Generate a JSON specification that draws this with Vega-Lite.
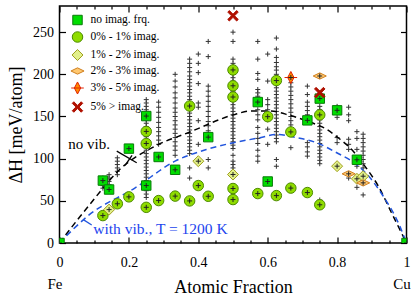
{
"$schema":"https://vega.github.io/schema/vega-lite/v6.json",
"width":347,"height":237,
"autosize":{"type":"none"},
"padding":{"left":59.5,"top":6,"right":8.5,"bottom":54},
"background":"white",
"config":{
 "font":"Liberation Serif",
 "view":{"stroke":"black","strokeWidth":1.5},
 "axis":{"grid":false,"domain":false,"tickColor":"black","tickWidth":1.2,"labelColor":"black","titleColor":"black","labelFont":"Liberation Serif","titleFont":"Liberation Serif","labelFontSize":14,"titleFontSize":18,"titleFontWeight":"normal","labelFlush":false,"labelOverlap":false},
 "legend":{"labelFont":"Liberation Serif","labelFontSize":11.5,"labelColor":"black","padding":0,"rowPadding":2,"labelOffset":7,"symbolStrokeWidth":1,"symbolSize":110}
},
"datasets":{
 "crosses":[
  {"x":0.125,"y":77},{"x":0.125,"y":74},{"x":0.125,"y":71},{"x":0.125,"y":68},{"x":0.125,"y":65},
  {"x":0.1429,"y":81},{"x":0.1429,"y":77},{"x":0.1429,"y":73},{"x":0.1429,"y":69},{"x":0.1429,"y":65},
  {"x":0.1667,"y":101},{"x":0.1667,"y":97},{"x":0.1667,"y":93},{"x":0.1667,"y":89},{"x":0.1667,"y":85},{"x":0.1667,"y":81},
  {"x":0.25,"y":170},{"x":0.25,"y":166},{"x":0.25,"y":162},{"x":0.25,"y":158},{"x":0.25,"y":154},{"x":0.25,"y":150},{"x":0.25,"y":146},{"x":0.25,"y":142},{"x":0.25,"y":138},{"x":0.25,"y":134},{"x":0.25,"y":130},{"x":0.25,"y":126},{"x":0.25,"y":122},{"x":0.25,"y":118},{"x":0.25,"y":114},{"x":0.25,"y":110},{"x":0.25,"y":106},{"x":0.25,"y":102},{"x":0.25,"y":98},{"x":0.25,"y":94},{"x":0.25,"y":90},{"x":0.25,"y":86},{"x":0.25,"y":82},{"x":0.25,"y":78},{"x":0.25,"y":74},{"x":0.25,"y":70},{"x":0.25,"y":66},{"x":0.25,"y":62},{"x":0.25,"y":58},{"x":0.25,"y":54},
  {"x":0.2857,"y":167},{"x":0.2857,"y":161},{"x":0.2857,"y":155},{"x":0.2857,"y":149},{"x":0.2857,"y":143},{"x":0.2857,"y":137},{"x":0.2857,"y":132},{"x":0.2857,"y":127},{"x":0.2857,"y":122},{"x":0.2857,"y":117},
  {"x":0.3333,"y":200},{"x":0.3333,"y":192},{"x":0.3333,"y":185},{"x":0.3333,"y":178},{"x":0.3333,"y":172},{"x":0.3333,"y":166},{"x":0.3333,"y":160},{"x":0.3333,"y":155},{"x":0.3333,"y":150},{"x":0.3333,"y":145},{"x":0.3333,"y":140},{"x":0.3333,"y":135},{"x":0.3333,"y":130},{"x":0.3333,"y":125},{"x":0.3333,"y":120},{"x":0.3333,"y":115},{"x":0.3333,"y":110},{"x":0.3333,"y":104},
  {"x":0.375,"y":218},{"x":0.375,"y":213},{"x":0.375,"y":208},{"x":0.375,"y":203},{"x":0.375,"y":198},{"x":0.375,"y":194},{"x":0.375,"y":190},{"x":0.375,"y":186},{"x":0.375,"y":182},{"x":0.375,"y":178},{"x":0.375,"y":174},{"x":0.375,"y":170},{"x":0.375,"y":166},{"x":0.375,"y":158},{"x":0.375,"y":154},{"x":0.375,"y":150},{"x":0.375,"y":146},{"x":0.375,"y":142},{"x":0.375,"y":138},{"x":0.375,"y":134},{"x":0.375,"y":130},{"x":0.375,"y":126},{"x":0.375,"y":122},{"x":0.375,"y":118},{"x":0.375,"y":114},{"x":0.375,"y":110},{"x":0.375,"y":106},{"x":0.375,"y":89},{"x":0.375,"y":77},
  {"x":0.4,"y":224},{"x":0.4,"y":213},{"x":0.4,"y":202},{"x":0.4,"y":189},{"x":0.4,"y":166},{"x":0.4,"y":161},{"x":0.4,"y":145},{"x":0.4,"y":117},
  {"x":0.4286,"y":239},{"x":0.4286,"y":221},{"x":0.4286,"y":186},{"x":0.4286,"y":180},{"x":0.4286,"y":174},{"x":0.4286,"y":168},{"x":0.4286,"y":162},{"x":0.4286,"y":156},{"x":0.4286,"y":150},{"x":0.4286,"y":144},{"x":0.4286,"y":139},{"x":0.4286,"y":133},{"x":0.4286,"y":99},{"x":0.4286,"y":89},
  {"x":0.5,"y":250},{"x":0.5,"y":239},{"x":0.5,"y":218},{"x":0.5,"y":213},{"x":0.5,"y":209},{"x":0.5,"y":200},{"x":0.5,"y":196},{"x":0.5,"y":192},{"x":0.5,"y":188},{"x":0.5,"y":184},{"x":0.5,"y":180},{"x":0.5,"y":176},{"x":0.5,"y":172},{"x":0.5,"y":168},{"x":0.5,"y":164},{"x":0.5,"y":160},{"x":0.5,"y":156},{"x":0.5,"y":152},{"x":0.5,"y":148},{"x":0.5,"y":144},{"x":0.5,"y":140},{"x":0.5,"y":136},{"x":0.5,"y":132},{"x":0.5,"y":128},{"x":0.5,"y":124},{"x":0.5,"y":120},{"x":0.5,"y":116},{"x":0.5,"y":112},{"x":0.5,"y":104},{"x":0.5,"y":97},{"x":0.5,"y":93},{"x":0.5,"y":89},{"x":0.5,"y":85},
  {"x":0.5714,"y":239},{"x":0.5714,"y":218},{"x":0.5714,"y":201},{"x":0.5714,"y":194},{"x":0.5714,"y":182},{"x":0.5714,"y":178},{"x":0.5714,"y":174},{"x":0.5714,"y":158},{"x":0.5714,"y":152},{"x":0.5714,"y":146},{"x":0.5714,"y":137},{"x":0.5714,"y":130},{"x":0.5714,"y":124},{"x":0.5714,"y":118},{"x":0.5714,"y":110},{"x":0.5714,"y":103},{"x":0.5714,"y":97},
  {"x":0.6,"y":224},{"x":0.6,"y":192},{"x":0.6,"y":170},{"x":0.6,"y":164},{"x":0.6,"y":158},{"x":0.6,"y":152},{"x":0.6,"y":146},{"x":0.6,"y":135},{"x":0.6,"y":117},
  {"x":0.625,"y":243},{"x":0.625,"y":230},{"x":0.625,"y":220},{"x":0.625,"y":214},{"x":0.625,"y":209},{"x":0.625,"y":205},{"x":0.625,"y":200},{"x":0.625,"y":196},{"x":0.625,"y":188},{"x":0.625,"y":184},{"x":0.625,"y":180},{"x":0.625,"y":176},{"x":0.625,"y":172},{"x":0.625,"y":168},{"x":0.625,"y":164},{"x":0.625,"y":160},{"x":0.625,"y":156},{"x":0.625,"y":152},{"x":0.625,"y":148},{"x":0.625,"y":144},{"x":0.625,"y":140},{"x":0.625,"y":136},{"x":0.625,"y":132},{"x":0.625,"y":128},{"x":0.625,"y":124},{"x":0.625,"y":120},{"x":0.625,"y":99},{"x":0.625,"y":91},
  {"x":0.6667,"y":196},{"x":0.6667,"y":190},{"x":0.6667,"y":185},{"x":0.6667,"y":180},{"x":0.6667,"y":175},{"x":0.6667,"y":170},{"x":0.6667,"y":165},{"x":0.6667,"y":160},{"x":0.6667,"y":155},{"x":0.6667,"y":150},{"x":0.6667,"y":145},{"x":0.6667,"y":140},{"x":0.6667,"y":135},{"x":0.6667,"y":113},
  {"x":0.7143,"y":186},{"x":0.7143,"y":176},{"x":0.7143,"y":167},{"x":0.7143,"y":162},{"x":0.7143,"y":157},{"x":0.7143,"y":152},{"x":0.7143,"y":147},{"x":0.7143,"y":119},{"x":0.7143,"y":114},{"x":0.7143,"y":108},{"x":0.7143,"y":103},
  {"x":0.75,"y":198},{"x":0.75,"y":178},{"x":0.75,"y":171},{"x":0.75,"y":162},{"x":0.75,"y":158},{"x":0.75,"y":154},{"x":0.75,"y":150},{"x":0.75,"y":146},{"x":0.75,"y":142},{"x":0.75,"y":138},{"x":0.75,"y":134},{"x":0.75,"y":130},{"x":0.75,"y":126},{"x":0.75,"y":122},{"x":0.75,"y":118},{"x":0.75,"y":114},{"x":0.75,"y":110},{"x":0.75,"y":106},{"x":0.75,"y":102},{"x":0.75,"y":98},{"x":0.75,"y":94},{"x":0.75,"y":51},
  {"x":0.8,"y":162},{"x":0.8,"y":149},{"x":0.8,"y":125},{"x":0.8,"y":119},
  {"x":0.8333,"y":161},{"x":0.8333,"y":152},{"x":0.8333,"y":145},{"x":0.8333,"y":123},{"x":0.8333,"y":117},{"x":0.8333,"y":111},{"x":0.8333,"y":77},
  {"x":0.8571,"y":132},{"x":0.8571,"y":124},{"x":0.8571,"y":111},{"x":0.8571,"y":101},{"x":0.8571,"y":96},{"x":0.8571,"y":91},{"x":0.8571,"y":66},
  {"x":0.875,"y":129},{"x":0.875,"y":124},{"x":0.875,"y":119},{"x":0.875,"y":114},{"x":0.875,"y":109},{"x":0.875,"y":104},{"x":0.875,"y":99},{"x":0.875,"y":94},{"x":0.875,"y":89},{"x":0.875,"y":57}
 ],
 "markers":[
  {"x":0,"y":0,"cat":"no imag. frq."},{"x":1,"y":0,"cat":"no imag. frq."},{"x":0.25,"y":150.5,"cat":"no imag. frq."},{"x":0.2,"y":111.9,"cat":"no imag. frq."},{"x":0.2857,"y":102,"cat":"no imag. frq."},{"x":0.3333,"y":86.8,"cat":"no imag. frq."},{"x":0.125,"y":74,"cat":"no imag. frq."},{"x":0.1429,"y":63.4,"cat":"no imag. frq."},{"x":0.25,"y":68.1,"cat":"no imag. frq."},{"x":0.4286,"y":125.5,"cat":"no imag. frq."},{"x":0.5714,"y":167.1,"cat":"no imag. frq."},{"x":0.7143,"y":145.4,"cat":"no imag. frq."},{"x":0.75,"y":171.2,"cat":"no imag. frq."},{"x":0.8,"y":157.3,"cat":"no imag. frq."},{"x":0.8571,"y":98.7,"cat":"no imag. frq."},{"x":0.6,"y":72.9,"cat":"no imag. frq."},
  {"x":0.25,"y":132.3,"cat":"0% - 1% imag."},{"x":0.25,"y":118,"cat":"0% - 1% imag."},{"x":0.125,"y":32.5,"cat":"0% - 1% imag."},{"x":0.1667,"y":46.5,"cat":"0% - 1% imag."},{"x":0.2,"y":54.7,"cat":"0% - 1% imag."},{"x":0.25,"y":42.3,"cat":"0% - 1% imag."},{"x":0.2857,"y":50.3,"cat":"0% - 1% imag."},{"x":0.3333,"y":55.6,"cat":"0% - 1% imag."},{"x":0.375,"y":49.9,"cat":"0% - 1% imag."},{"x":0.4,"y":68.1,"cat":"0% - 1% imag."},{"x":0.4286,"y":55.4,"cat":"0% - 1% imag."},{"x":0.5,"y":64.6,"cat":"0% - 1% imag."},{"x":0.5,"y":51.5,"cat":"0% - 1% imag."},{"x":0.375,"y":162.4,"cat":"0% - 1% imag."},{"x":0.5,"y":205.2,"cat":"0% - 1% imag."},{"x":0.5,"y":186.4,"cat":"0% - 1% imag."},{"x":0.5,"y":173.1,"cat":"0% - 1% imag."},{"x":0.5714,"y":58.6,"cat":"0% - 1% imag."},{"x":0.625,"y":56.2,"cat":"0% - 1% imag."},{"x":0.6667,"y":65.1,"cat":"0% - 1% imag."},{"x":0.7143,"y":59.8,"cat":"0% - 1% imag."},{"x":0.75,"y":45.3,"cat":"0% - 1% imag."},{"x":0.6,"y":149.8,"cat":"0% - 1% imag."},{"x":0.6667,"y":131.7,"cat":"0% - 1% imag."},{"x":0.75,"y":151.9,"cat":"0% - 1% imag."},{"x":0.625,"y":192.6,"cat":"0% - 1% imag."},
  {"x":0.1429,"y":39.6,"cat":"1% - 2% imag."},{"x":0.4,"y":97,"cat":"1% - 2% imag."},{"x":0.5,"y":81.2,"cat":"1% - 2% imag."},{"x":0.8,"y":91.1,"cat":"1% - 2% imag."},{"x":0.8571,"y":76.1,"cat":"1% - 2% imag."},{"x":0.875,"y":79.2,"cat":"1% - 2% imag."},
  {"x":0.8333,"y":82,"cat":"2% - 3% imag."},{"x":0.875,"y":71.3,"cat":"2% - 3% imag."},{"x":0.75,"y":198,"cat":"2% - 3% imag."},
  {"x":0.6667,"y":196.2,"cat":"3% - 5% imag."},
  {"x":0.5,"y":269.4,"cat":"5% > imag."},{"x":0.75,"y":178.3,"cat":"5% > imag."}
 ],
 "novib":[
  {"x":0,"y":0},{"x":0.083,"y":43.5},{"x":0.179,"y":89.2},{"x":0.275,"y":114.8},{"x":0.371,"y":130.8},{"x":0.506,"y":152.5},{"x":0.549,"y":156.4},{"x":0.607,"y":156.4},{"x":0.664,"y":151.3},{"x":0.722,"y":143.4},{"x":0.77,"y":134.7},{"x":0.803,"y":124.8},{"x":0.842,"y":110.9},{"x":0.88,"y":91.1},{"x":0.919,"y":67.3},{"x":0.957,"y":35.7},{"x":1,"y":0}
 ],
 "vib":[
  {"x":0,"y":0},{"x":0.083,"y":32.5},{"x":0.218,"y":65.4},{"x":0.333,"y":97},{"x":0.424,"y":110.9},{"x":0.501,"y":118.9},{"x":0.578,"y":124.8},{"x":0.626,"y":128.7},{"x":0.684,"y":124.8},{"x":0.741,"y":118.9},{"x":0.799,"y":107},{"x":0.856,"y":93.1},{"x":0.895,"y":77.3},{"x":0.933,"y":55.4},{"x":0.981,"y":19.7},{"x":1,"y":0}
 ]
},
"layer":[
 {"data":{"name":"crosses"},
  "mark":{"type":"point","shape":"M-1,0L1,0M0,-1L0,1","size":25,"filled":false,"stroke":"#333333","strokeWidth":1,"opacity":1,"clip":true},
  "encoding":{
   "x":{"field":"x","type":"quantitative","scale":{"domain":[0,1],"nice":false,"zero":false},
        "axis":{"orient":"bottom","title":"Atomic Fraction","titlePadding":6,
                "values":[0,0.05,0.1,0.15,0.2,0.25,0.3,0.35,0.4,0.45,0.5,0.55,0.6,0.65,0.7,0.75,0.8,0.85,0.9,0.95,1],
                "labelExpr":"abs(datum.value*5-round(datum.value*5))<0.001 ? format(datum.value,'~g') : ''",
                "tickSize":{"condition":{"test":"abs(datum.value*5-round(datum.value*5))<0.001","value":-6},"value":-3},
                "labelPadding":18.5}},
   "y":{"field":"y","type":"quantitative","scale":{"domain":[0,281],"nice":false},
        "axis":{"orient":"left","title":"ΔH [meV/atom]","titlePadding":7,"values":[0,50,100,150,200,250],"tickSize":-6,"labelPadding":12}}
  }},
 {"data":{"name":"novib"},
  "mark":{"type":"line","color":"black","strokeWidth":1.5,"strokeDash":[6,4],"interpolate":"monotone","clip":true},
  "encoding":{
   "x":{"field":"x","type":"quantitative",
        "axis":{"orient":"top","title":null,"labels":false,
                "values":[0,0.05,0.1,0.15,0.2,0.25,0.3,0.35,0.4,0.45,0.5,0.55,0.6,0.65,0.7,0.75,0.8,0.85,0.9,0.95,1],
                "tickSize":{"condition":{"test":"abs(datum.value*5-round(datum.value*5))<0.001","value":-6},"value":-3}}},
   "y":{"field":"y","type":"quantitative","axis":{"orient":"right","title":null,"labels":false,"values":[0,50,100,150,200,250],"tickSize":-6}}
  }},
 {"data":{"name":"vib"},
  "mark":{"type":"line","color":"#2255dd","strokeWidth":1.5,"strokeDash":[6,4],"interpolate":"monotone","clip":true},
  "encoding":{
   "x":{"field":"x","type":"quantitative","axis":null},
   "y":{"field":"y","type":"quantitative","axis":null}
  }},
 {"data":{"name":"markers"},
  "mark":{"type":"point","filled":true,"size":110,"strokeWidth":1,"opacity":1,"clip":true},
  "encoding":{
   "x":{"field":"x","type":"quantitative","axis":null},
   "y":{"field":"y","type":"quantitative","axis":null},
   "shape":{"field":"cat","type":"nominal",
     "scale":{"domain":["no imag. frq.","0% - 1% imag.","1% - 2% imag.","2% - 3% imag.","3% - 5% imag.","5% > imag."],
              "range":["M-0.9,-0.9L0.9,-0.9L0.9,0.9L-0.9,0.9Z","circle","M0,-1.05L1.05,0L0,1.05L-1.05,0Z","M-1.25,0L0,-0.6L1.25,0L0,0.6Z","M0,-1.15L0.6,0L0,1.15L-0.6,0ZM-1.2,0L1.2,0","M-1,-0.7L-0.7,-1L0,-0.3L0.7,-1L1,-0.7L0.3,0L1,0.7L0.7,1L0,0.3L-0.7,1L-1,0.7L-0.3,0Z"]},
     "legend":{"title":null,"orient":"none","legendX":12,"legendY":8}},
   "fill":{"field":"cat","type":"nominal",
     "scale":{"domain":["no imag. frq.","0% - 1% imag.","1% - 2% imag.","2% - 3% imag.","3% - 5% imag.","5% > imag."],
              "range":["#00dd00","#8fdc00","#e2f08a","#ffc870","#ff8c00","#b01000"]},
     "legend":{"title":null,"orient":"none","legendX":12,"legendY":8}},
   "stroke":{"field":"cat","type":"nominal",
     "scale":{"domain":["no imag. frq.","0% - 1% imag.","1% - 2% imag.","2% - 3% imag.","3% - 5% imag.","5% > imag."],
              "range":["#0a7a0a","#4d8a00","#a0a020","#d08020","#e02000","#b01000"]},
     "legend":{"title":null,"orient":"none","legendX":12,"legendY":8}}
  }},
 {"data":{"name":"markers"},
  "transform":[{"filter":"datum.cat != '5% > imag.'"}],
  "mark":{"type":"point","shape":"M-1,0L1,0M0,-1L0,1","size":25,"filled":false,"stroke":"#222222","strokeWidth":1,"opacity":1,"clip":true},
  "encoding":{
   "x":{"field":"x","type":"quantitative","axis":null},
   "y":{"field":"y","type":"quantitative","axis":null}
  }},
 {"data":{"values":[{"x1":0.165,"y1":108.9,"x2":0.2225,"y2":95.1},{"x1":0.209,"y1":103.8,"x2":0.189,"y2":91.9}]},
  "mark":{"type":"rule","color":"black","strokeWidth":1.3},
  "encoding":{
   "x":{"field":"x1","type":"quantitative",
        "axis":{"orient":"bottom","title":null,"values":[0,1],"ticks":false,"labelExpr":"datum.value < 0.5 ? 'Fe' : 'Cu'","labelPadding":33,"labelOffset":-5,"labelFontSize":15}},
   "y":{"field":"y1","type":"quantitative","axis":null},
   "x2":{"field":"x2"},"y2":{"field":"y2"}
  }},
 {"data":{"values":[{"x1":0.0686,"y1":27.7,"x2":0.0928,"y2":21.4}]},
  "mark":{"type":"rule","color":"#2255dd","strokeWidth":1.3},
  "encoding":{
   "x":{"field":"x1","type":"quantitative","axis":null},
   "y":{"field":"y1","type":"quantitative","axis":null},
   "x2":{"field":"x2"},"y2":{"field":"y2"}
  }},
 {"data":{"values":[{"label":"no vib.","x":0.0254,"y":116.9}]},
  "mark":{"type":"text","align":"left","baseline":"middle","fontSize":15,"font":"Liberation Serif","color":"black"},
  "encoding":{
   "x":{"field":"x","type":"quantitative","axis":null},
   "y":{"field":"y","type":"quantitative","axis":null},
   "text":{"field":"label"}
  }},
 {"data":{"values":[{"label":"with vib., T = 1200 K","x":0.0974,"y":17}]},
  "mark":{"type":"text","align":"left","baseline":"middle","fontSize":15.5,"font":"Liberation Serif","color":"#2244ee"},
  "encoding":{
   "x":{"field":"x","type":"quantitative","axis":null},
   "y":{"field":"y","type":"quantitative","axis":null},
   "text":{"field":"label"}
  }}
],
"resolve":{"axis":{"x":"independent","y":"independent"}}
}
